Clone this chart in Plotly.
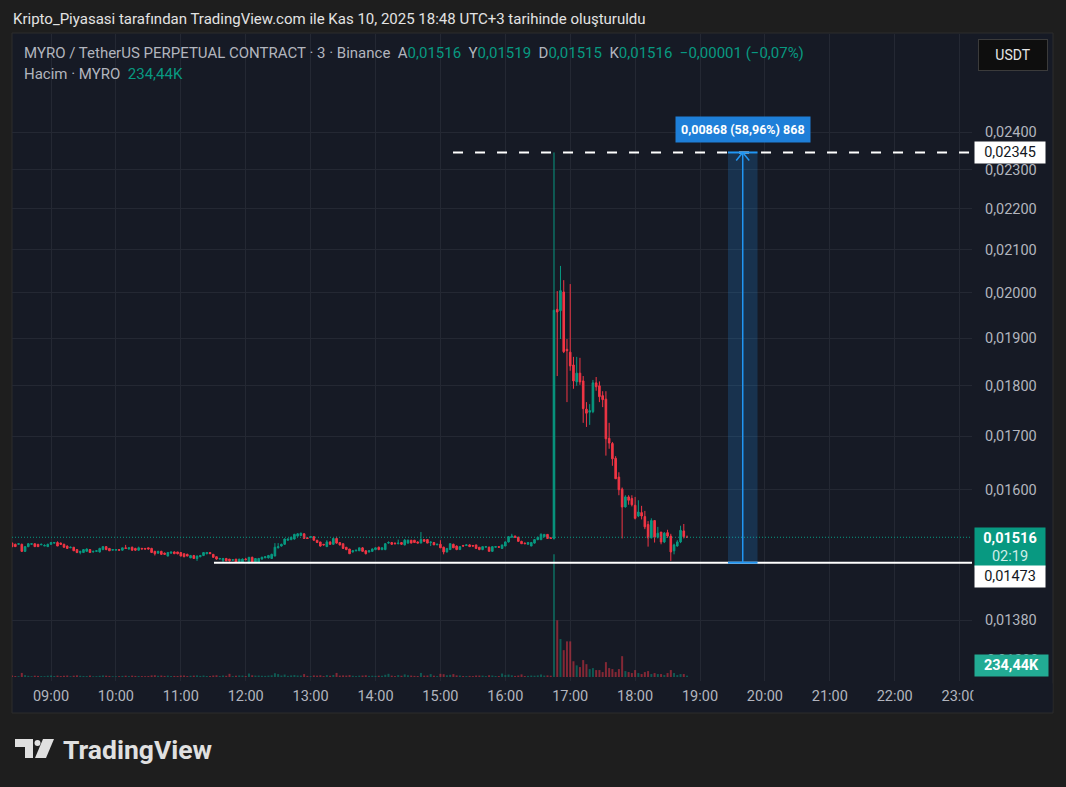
"""
MYRO/USDT perpetual, 3-minute candles (TradingView screenshot recreation).
"""

from __future__ import annotations

import math

import numpy as np
import pandas as pd
import plotly.graph_objects as go

# ---------------------------------------------------------------- data
TICK = 0.00001  # prices below are written in ticks of 0.00001 USDT
BAR_START = "2025-11-10 08:24"
BAR_FREQ = "3min"

OPEN_TICKS = [
    1506, 1504, 1504, 1504, 1492, 1500, 1504, 1505, 1504, 1503,
    1501, 1500, 1504, 1506, 1507, 1506, 1504, 1501, 1498, 1499,
    1495, 1490, 1490, 1492, 1495, 1491, 1492, 1491, 1495, 1500,
    1497, 1494, 1494, 1495, 1494, 1498, 1496, 1499, 1497, 1494,
    1497, 1497, 1498, 1497, 1492, 1489, 1492, 1489, 1484, 1489,
    1491, 1491, 1490, 1488, 1487, 1481, 1485, 1480, 1483, 1485,
    1488, 1490, 1487, 1483, 1479, 1477, 1480, 1479, 1477, 1479,
    1474, 1474, 1479, 1474, 1482, 1474, 1474, 1479, 1481, 1481,
    1480, 1484, 1498, 1501, 1504, 1511, 1512, 1513, 1518, 1519,
    1522, 1515, 1516, 1517, 1511, 1508, 1504, 1500, 1508, 1504,
    1514, 1507, 1505, 1499, 1496, 1491, 1493, 1493, 1498, 1493,
    1491, 1492, 1495, 1499, 1495, 1495, 1506, 1507, 1506, 1505,
    1507, 1503, 1506, 1511, 1511, 1508, 1506, 1512, 1512, 1507,
    1507, 1503, 1504, 1499, 1491, 1495, 1504, 1501, 1495, 1502,
    1502, 1503, 1502, 1503, 1499, 1495, 1499, 1499, 1492, 1499,
    1500, 1497, 1501, 1508, 1516, 1518, 1516, 1509, 1506, 1504,
    1501, 1506, 1512, 1512, 1517, 1521, 1515, 1514, 1963, 1960,
    2002, 1876, 1870, 1843, 1808, 1826, 1810, 1753, 1747, 1748,
    1806, 1800, 1780, 1773, 1696, 1686, 1658, 1623, 1601, 1569,
    1587, 1584, 1572, 1553, 1559, 1552, 1538, 1515, 1545, 1516,
    1525, 1508, 1524, 1518, 1493, 1501, 1508, 1527, 1516,
]
HIGH_TICKS = [
    1507, 1505, 1506, 1505, 1501, 1506, 1505, 1505, 1504, 1505,
    1504, 1505, 1508, 1508, 1509, 1507, 1505, 1502, 1500, 1499,
    1495, 1493, 1496, 1497, 1496, 1493, 1494, 1498, 1501, 1501,
    1497, 1496, 1496, 1495, 1498, 1503, 1499, 1500, 1498, 1500,
    1498, 1497, 1498, 1498, 1493, 1493, 1493, 1490, 1491, 1491,
    1492, 1491, 1491, 1488, 1488, 1486, 1486, 1485, 1486, 1490,
    1491, 1491, 1487, 1483, 1481, 1481, 1481, 1479, 1479, 1479,
    1479, 1480, 1481, 1482, 1483, 1480, 1481, 1483, 1484, 1486,
    1488, 1506, 1506, 1505, 1514, 1514, 1517, 1522, 1523, 1524,
    1523, 1516, 1518, 1518, 1511, 1508, 1504, 1511, 1509, 1515,
    1517, 1507, 1505, 1499, 1496, 1494, 1494, 1498, 1499, 1494,
    1494, 1497, 1499, 1500, 1499, 1506, 1509, 1508, 1507, 1512,
    1507, 1513, 1512, 1511, 1511, 1509, 1525, 1513, 1513, 1508,
    1508, 1505, 1511, 1500, 1497, 1506, 1505, 1502, 1501, 1503,
    1504, 1504, 1502, 1503, 1499, 1500, 1501, 1500, 1500, 1500,
    1500, 1503, 1509, 1518, 1522, 1519, 1517, 1510, 1507, 1508,
    1508, 1512, 1517, 1523, 1521, 1521, 1516, 2345, 2004, 2062,
    2029, 1898, 2020, 1860, 1860, 1858, 1820, 1767, 1763, 1812,
    1818, 1809, 1789, 1789, 1726, 1689, 1662, 1632, 1604, 1590,
    1590, 1590, 1587, 1581, 1571, 1562, 1544, 1549, 1546, 1534,
    1525, 1525, 1529, 1522, 1505, 1511, 1536, 1539, 1519,
]
LOW_TICKS = [
    1499, 1500, 1503, 1491, 1491, 1499, 1503, 1500, 1500, 1503,
    1501, 1500, 1503, 1505, 1501, 1503, 1498, 1496, 1498, 1493,
    1489, 1487, 1490, 1492, 1490, 1490, 1491, 1490, 1494, 1494,
    1493, 1494, 1494, 1493, 1493, 1496, 1495, 1493, 1493, 1493,
    1496, 1495, 1495, 1490, 1485, 1488, 1486, 1486, 1484, 1488,
    1488, 1487, 1484, 1482, 1484, 1481, 1480, 1476, 1482, 1484,
    1487, 1488, 1481, 1478, 1478, 1474, 1476, 1475, 1476, 1474,
    1473, 1473, 1477, 1471, 1473, 1473, 1474, 1478, 1481, 1480,
    1480, 1484, 1497, 1500, 1503, 1510, 1511, 1512, 1517, 1518,
    1513, 1513, 1515, 1510, 1507, 1500, 1502, 1500, 1503, 1503,
    1505, 1502, 1496, 1494, 1488, 1490, 1492, 1493, 1492, 1487,
    1490, 1491, 1494, 1494, 1494, 1494, 1505, 1503, 1504, 1504,
    1503, 1502, 1505, 1506, 1507, 1506, 1506, 1509, 1506, 1501,
    1503, 1503, 1498, 1487, 1490, 1495, 1498, 1494, 1495, 1500,
    1501, 1500, 1500, 1497, 1494, 1494, 1499, 1492, 1491, 1498,
    1498, 1496, 1501, 1507, 1516, 1515, 1509, 1505, 1505, 1503,
    1501, 1505, 1511, 1511, 1516, 1513, 1514, 1512, 1820, 1898,
    1868, 1767, 1831, 1794, 1800, 1802, 1726, 1718, 1722, 1745,
    1790, 1767, 1757, 1663, 1676, 1644, 1620, 1590, 1514, 1568,
    1573, 1570, 1547, 1551, 1547, 1530, 1500, 1514, 1507, 1514,
    1504, 1506, 1515, 1476, 1487, 1500, 1506, 1514, 1515,
]
CLOSE_TICKS = [
    1500, 1500, 1505, 1492, 1500, 1505, 1505, 1500, 1500, 1504,
    1502, 1504, 1507, 1507, 1501, 1504, 1499, 1497, 1499, 1493,
    1490, 1492, 1495, 1496, 1490, 1492, 1493, 1497, 1500, 1495,
    1493, 1495, 1495, 1494, 1498, 1497, 1498, 1494, 1494, 1498,
    1496, 1496, 1496, 1490, 1488, 1492, 1487, 1487, 1490, 1491,
    1488, 1488, 1484, 1483, 1484, 1485, 1480, 1484, 1485, 1490,
    1490, 1488, 1482, 1479, 1480, 1480, 1476, 1476, 1478, 1474,
    1479, 1479, 1478, 1482, 1474, 1480, 1480, 1482, 1483, 1485,
    1487, 1499, 1500, 1504, 1513, 1513, 1516, 1521, 1522, 1523,
    1514, 1514, 1517, 1511, 1507, 1501, 1503, 1508, 1504, 1514,
    1506, 1503, 1497, 1495, 1488, 1493, 1494, 1498, 1492, 1488,
    1493, 1496, 1498, 1495, 1498, 1505, 1507, 1504, 1505, 1506,
    1504, 1511, 1511, 1506, 1507, 1506, 1512, 1509, 1506, 1508,
    1503, 1504, 1498, 1491, 1497, 1505, 1498, 1495, 1500, 1501,
    1503, 1500, 1501, 1497, 1495, 1500, 1500, 1492, 1500, 1500,
    1499, 1503, 1508, 1517, 1518, 1516, 1509, 1505, 1505, 1507,
    1507, 1512, 1516, 1521, 1521, 1514, 1514, 1961, 1957, 2005,
    1871, 1873, 1841, 1810, 1826, 1808, 1754, 1745, 1750, 1806,
    1798, 1778, 1772, 1695, 1687, 1657, 1620, 1600, 1569, 1587,
    1581, 1573, 1549, 1560, 1553, 1534, 1515, 1545, 1516, 1523,
    1508, 1523, 1518, 1491, 1503, 1508, 1528, 1517, 1516,
]
VOLUME_K = [
    260, 180, 150, 700, 320, 210, 140, 230, 190, 160,
    150, 220, 260, 180, 240, 170, 210, 260, 140, 230,
    290, 220, 180, 160, 250, 130, 150, 210, 270, 230,
    190, 140, 120, 150, 200, 230, 160, 240, 190, 180,
    160, 150, 170, 280, 300, 210, 260, 190, 240, 170,
    190, 180, 250, 260, 170, 220, 240, 280, 190, 260,
    180, 170, 260, 300, 170, 250, 210, 550, 160, 230,
    270, 250, 180, 600, 300, 240, 260, 220, 200, 250,
    300, 650, 500, 260, 420, 200, 280, 340, 260, 250,
    500, 200, 160, 280, 240, 300, 160, 330, 220, 350,
    700, 240, 280, 250, 330, 220, 160, 240, 250, 300,
    200, 230, 210, 230, 200, 380, 550, 240, 160, 330,
    220, 450, 300, 250, 200, 180, 700, 240, 260, 500,
    230, 160, 550, 480, 300, 380, 500, 280, 260, 180,
    170, 200, 160, 260, 250, 240, 160, 300, 260, 180,
    170, 600, 330, 420, 300, 190, 250, 450, 180, 200,
    260, 230, 280, 450, 250, 280, 230, 21000, 9700, 6500,
    4600, 6100, 6100, 2700, 2000, 1700, 2900, 2200, 1360, 1530,
    1190, 1190, 850, 2550, 1530, 1360, 850, 1360, 3570, 1020,
    850, 680, 1190, 680, 510, 850, 1020, 510, 680, 510,
    510, 340, 680, 1190, 680, 340, 510, 510, 234.44,
]

PRICE_TICKS = [0.024, 0.023, 0.022, 0.021, 0.020, 0.019, 0.018, 0.017, 0.016, 0.0138]
HOUR_TICKS = [f"{h:02d}:00" for h in range(9, 24)]

LAST_PRICE = 0.01516
SPIKE_HIGH = 0.02345
SUPPORT = 0.01473
MEASURE_TEXT = "0,00868 (58,96%) 868"
LAST_VOLUME_TEXT = "234,44K"
COUNTDOWN = "02:19"

DAY = "2025-11-10"
X_RANGE = [f"{DAY} 08:23:56", f"{DAY} 23:11:27"]
PRICE_RANGE = [0.012881, 0.02682]
VOLUME_RANGE = [-680, 110000]
DASH_FROM = f"{DAY} 15:11:40"
SUPPORT_FROM = f"{DAY} 11:30:40"
BOX_FROM, BOX_MID, BOX_TO = f"{DAY} 19:25:50", f"{DAY} 19:39:30", f"{DAY} 19:53:10"

# ---------------------------------------------------------------- style
UP = "#089981"
DOWN = "#f23645"
PANE = "#161a25"
OUTER = "#1e1e1e"
GRID = "#242833"
AXIS_TEXT = "#b2b5be"
BLUE = "#2196f3"
FONT = "Roboto"
AXIS_SIZE = 14.5

W, H = 1066, 787
PL, PR, PT, PB = 12, 972, 34, 681  # plot area in page pixels


def px(x: float) -> float:
    return (x - PL) / (PR - PL)


def py(y: float) -> float:
    return (PB - y) / (PB - PT)


def fmt(v: float) -> str:
    return f"{v:.5f}".replace(".", ",")


times = pd.date_range(BAR_START, periods=len(OPEN_TICKS), freq=BAR_FREQ)
o = np.array(OPEN_TICKS) * TICK
h = np.array(HIGH_TICKS) * TICK
l = np.array(LOW_TICKS) * TICK
c = np.array(CLOSE_TICKS) * TICK
vol_colors = ["rgba(8,153,129,0.5)" if cc >= oo else "rgba(242,54,69,0.5)" for oo, cc in zip(o, c)]

fig = go.Figure()

# volume (base axis, drawn underneath)
fig.add_trace(
    go.Bar(x=times, y=VOLUME_K, marker=dict(color=vol_colors, line_width=0),
           width=110000, yaxis="y", hoverinfo="skip")
)

# current price dotted line
fig.add_trace(
    go.Scatter(x=X_RANGE, y=[LAST_PRICE, LAST_PRICE], mode="lines", yaxis="y2",
               line=dict(color=UP, width=1, dash="1px,2px"), hoverinfo="skip")
)

# measure box fill
fig.add_trace(
    go.Scatter(x=[BOX_FROM, BOX_TO, BOX_TO, BOX_FROM, BOX_FROM],
               y=[SUPPORT, SUPPORT, SPIKE_HIGH, SPIKE_HIGH, SUPPORT],
               mode="lines", fill="toself", fillcolor="rgba(33,150,243,0.2)",
               line=dict(width=0), yaxis="y2", hoverinfo="skip")
)

fig.add_trace(
    go.Candlestick(
        x=times, open=o, high=h, low=l, close=c, yaxis="y2",
        increasing=dict(line=dict(color=UP, width=1), fillcolor=UP),
        decreasing=dict(line=dict(color=DOWN, width=1), fillcolor=DOWN),
        whiskerwidth=0, hoverinfo="skip",
    )
)

# drawings: support line, spike-high dashed line
fig.add_trace(
    go.Scatter(x=[SUPPORT_FROM, X_RANGE[1]], y=[SUPPORT, SUPPORT], mode="lines", yaxis="y2",
               line=dict(color="#ffffff", width=2), hoverinfo="skip")
)
fig.add_trace(
    go.Scatter(x=[DASH_FROM, X_RANGE[1]], y=[SPIKE_HIGH, SPIKE_HIGH], mode="lines", yaxis="y2",
               line=dict(color="#ffffff", width=2, dash="10px,12px"), hoverinfo="skip")
)
for level in (SUPPORT, SPIKE_HIGH):
    fig.add_trace(
        go.Scatter(x=[BOX_FROM, BOX_TO], y=[level, level], mode="lines", yaxis="y2",
                   line=dict(color=BLUE, width=2), hoverinfo="skip")
    )
fig.add_trace(
    go.Scatter(x=[BOX_MID, BOX_MID], y=[SUPPORT, SPIKE_HIGH], mode="lines", yaxis="y2",
               line=dict(color=BLUE, width=1.5), hoverinfo="skip")
)
head = pd.Timedelta(minutes=6)
mid = pd.Timestamp(BOX_MID)
fig.add_trace(
    go.Scatter(x=[mid - head, mid, mid + head], y=[SPIKE_HIGH * 0.991, SPIKE_HIGH, SPIKE_HIGH * 0.991],
               mode="lines", yaxis="y2", line=dict(color=BLUE, width=1.5), hoverinfo="skip")
)

# ---------------------------------------------------------------- annotations
ann = []


def text(x, y, s, size=13, color=AXIS_TEXT, xanchor="left", **kw):
    ann.append(dict(xref="paper", yref="paper", x=x, y=y, text=s, showarrow=False,
                    xanchor=xanchor, yanchor="middle",
                    font=dict(family=FONT, size=size, color=color), **kw))


text(px(11), py(19), "Kripto_Piyasasi tarafından TradingView.com ile Kas 10, 2025 18:48 UTC+3 tarihinde oluşturuldu",
     size=15, color="#e3e3e3")


def val(s):
    return f"<span style='color:{UP}'>{s}</span>"


header = ("MYRO / TetherUS PERPETUAL CONTRACT · 3 · Binance  "
          f"A{val('0,01516')}  Y{val('0,01519')}  D{val('0,01515')}  K{val('0,01516')}  "
          f"{val('−0,00001 (−0,07%)')}")
text(px(22), py(53), header, size=15)
text(px(22), py(74), f"Hacim · MYRO  {val(LAST_VOLUME_TEXT)}", size=15)

# USDT button
text(px(1013), py(55), "USDT", size=14, color="#e6e6e6", xanchor="center",
     bgcolor="#0e0e0e", bordercolor="#3b3b3b", borderwidth=1, borderpad=7, width=54)

# bottom axis label, mostly covered by the volume label
text(px(985), py(660), "0,01290", size=AXIS_SIZE)

# price axis labels
def axis_label(price, s, bg, fg, yshift=0, height=17, bold=False):
    ann.append(dict(xref="paper", yref="y2", x=px(974), y=math.log10(price), text=s,
                    showarrow=False, xanchor="left", yanchor="middle", yshift=yshift,
                    bgcolor=bg, borderpad=2, width=66, height=height, align="center",
                    font=dict(family=FONT, size=AXIS_SIZE, color=fg)))


axis_label(SPIKE_HIGH, fmt(SPIKE_HIGH), "#ffffff", "#131722")
axis_label(LAST_PRICE, f"<b>{fmt(LAST_PRICE)}</b><br><span style='color:#cfeee8'>{COUNTDOWN}</span>",
           UP, "#ffffff", yshift=-10, height=35)
axis_label(SUPPORT, fmt(SUPPORT), "#ffffff", "#131722", yshift=-14)

ann.append(dict(xref="paper", yref="paper", x=px(974), y=py(677), text=f"<b>{LAST_VOLUME_TEXT}</b>",
                showarrow=False, xanchor="left", yanchor="bottom", bgcolor="#22ab94",
                borderpad=2, width=69, height=17,
                font=dict(family=FONT, size=AXIS_SIZE, color="#ffffff")))

# measure label
ann.append(dict(xref="x", yref="y2", x=BOX_MID, y=math.log10(SPIKE_HIGH), yshift=23,
                text=f"<b>{MEASURE_TEXT}</b>", showarrow=False, xanchor="center", yanchor="middle",
                bgcolor="#1e7fd8", borderpad=5,
                font=dict(family=FONT, size=12.5, color="#ffffff")))

# mask the clipped last time label under the price scale column
ann.append(dict(xref="paper", yref="paper", x=px(973), y=py(683), text=" ", showarrow=False,
                xanchor="left", yanchor="top", bgcolor=PANE, width=78, height=26, borderpad=0))

# logo wordmark
text(px(61), py(749), "<b>TradingView</b>", size=26.5, color="#e0e0e0")

# ---------------------------------------------------------------- shapes
shapes = [
    dict(type="rect", xref="paper", yref="paper", x0=px(12), x1=px(1053), y0=py(33), y1=py(713),
         fillcolor=PANE, line=dict(color="#2c2c2c", width=1), layer="below"),
]


def poly(points):
    d = "M " + " L ".join(f"{px(x)},{py(y)}" for x, y in points) + " Z"
    return dict(type="path", xref="paper", yref="paper", path=d, fillcolor="#e0e0e0",
                line=dict(width=0), layer="above")


shapes.append(poly([(15, 739), (33, 739), (33, 758), (25, 758), (25, 747), (15, 747)]))
shapes.append(poly([(43, 739), (54, 739), (46, 758), (35, 758)]))
shapes.append(dict(type="circle", xref="paper", yref="paper", x0=px(34.5), x1=px(40.5),
                   y0=py(746), y1=py(740), fillcolor="#e0e0e0", line=dict(width=0)))

fig.update_layout(
    width=W, height=H,
    margin=dict(l=PL, r=W - PR, t=PT, b=H - PB),
    paper_bgcolor=OUTER, plot_bgcolor=PANE,
    showlegend=False,
    hovermode=False,
    font=dict(family=FONT, color=AXIS_TEXT, size=13),
    xaxis=dict(
        type="date", range=X_RANGE, rangeslider_visible=False,
        tickvals=[f"{DAY} {t}" for t in HOUR_TICKS], ticktext=HOUR_TICKS,
        showgrid=True, gridcolor=GRID, gridwidth=1, zeroline=False, showline=False,
        ticks="", ticklabelstandoff=4, tickfont=dict(size=AXIS_SIZE, color=AXIS_TEXT),
    ),
    yaxis=dict(range=VOLUME_RANGE, visible=False, showgrid=False, fixedrange=True),
    yaxis2=dict(
        type="log", overlaying="y", side="right",
        range=[math.log10(PRICE_RANGE[0]), math.log10(PRICE_RANGE[1])],
        tickvals=PRICE_TICKS, ticktext=[fmt(v) for v in PRICE_TICKS],
        showgrid=True, gridcolor=GRID, gridwidth=1, zeroline=False, showline=False,
        ticks="", ticklabelstandoff=12, tickfont=dict(size=AXIS_SIZE, color=AXIS_TEXT),
    ),
    annotations=ann,
    shapes=shapes,
)

# the page body has a default 8px margin; drop it so the figure sits at the window corner
fig.write_html("out.html", config={"displayModeBar": False},
               post_script="document.body.style.margin='0';")
